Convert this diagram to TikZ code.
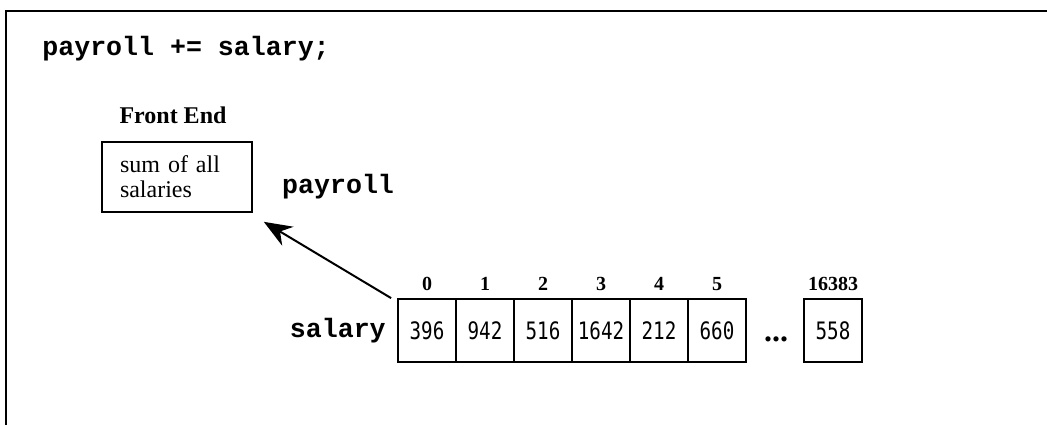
\documentclass[tikz,border=0pt]{standalone}
\usepackage{fontspec}
\setmainfont{Liberation Serif}
\setmonofont{Liberation Mono}
\newfontfamily\cellfont[FakeStretch=0.8]{DejaVu Sans Mono}
\usepackage{tikz}
\usetikzlibrary{positioning, arrows.meta}

\tikzset{
	code/.style={font=\ttfamily\bfseries\fontsize{13.3}{16}\selectfont, inner sep=0pt},
	cell/.style={draw, line width=0.9pt, minimum width=29pt, minimum height=31.5pt, inner sep=0pt, font=\cellfont\fontsize{12}{14}\selectfont},
	idx/.style={font=\bfseries\fontsize{10}{12}\selectfont, inner sep=0pt},
	arr/.style={-{Stealth[length=14pt,width=11pt]}, line width=1pt}
}

\begin{document}
\begin{tikzpicture}[x=0.5pt,y=-0.5pt]
	\useasboundingbox (0,0) rectangle (1047,425);
	\draw[line width=1.4pt] (1047,11) -- (6,11) -- (6,425);
	\node[code,anchor=base west] (stmt) at (42,55) {payroll += salary;};
	\node[draw,line width=0.8pt,text width=57pt,inner xsep=9pt,align=left,minimum height=35pt,font=\fontsize{12}{12.5}\selectfont] (fe) at (177,177) {sum of all\\salaries};
	\node[font=\bfseries\fontsize{12}{14}\selectfont,inner sep=0pt,above=8.5pt of fe,xshift=-2pt] (fename) {Front End};
	\node[code,right=14.5pt of fe,yshift=-5pt] (payroll) {payroll};
	\foreach \i/\v in {0/396,1/942,2/516,3/1642,4/212,5/660}{
		\node[cell] (c\i) at (427+58*\i,330.5) {\v};
		\node[idx,above=3.5pt of c\i] (i\i) {\i};
	}
	\node[font=\bfseries\fontsize{16}{16}\selectfont,inner sep=0pt,anchor=base] (dots) at (776,341) {...};
	\node[cell] (clast) at (833,330.5) {558};
	\node[idx,above=3.5pt of clast] (ilast) {16383};
	\node[code,left=5.5pt of c0] (salary) {salary};
	\draw[arr] ([xshift=-3pt]c0.north west) -- ([xshift=5.5pt,yshift=-4.5pt]fe.south east);
\end{tikzpicture}
\end{document}
